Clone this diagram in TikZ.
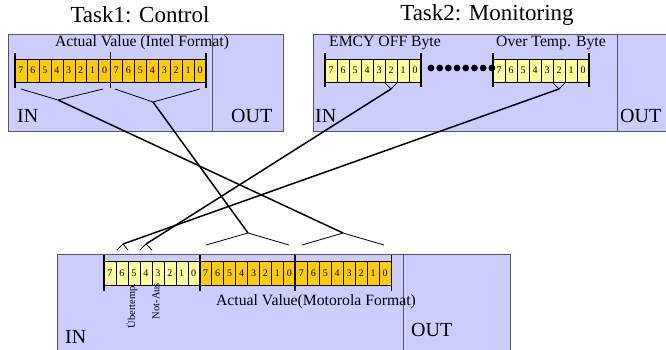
\documentclass[tikz,border=0pt]{standalone}
\usepackage{fontspec}
\setmainfont{Liberation Serif}
\usetikzlibrary{positioning}
\definecolor{boxfill}{HTML}{CCCCFF}
\definecolor{boxline}{HTML}{555566}
\definecolor{bitorange}{HTML}{FFCC00}
\definecolor{bityellow}{HTML}{FFFF99}
\tikzset{%
	taskbox/.style		= {draw = boxline, fill = boxfill, rectangle, anchor = north west, inner sep = 0pt}, % Task frame
	tasktitle/.style	= {font = \fontsize{23}{23}\selectfont},
	fieldtext/.style	= {font = \fontsize{15.7}{16}\selectfont, inner sep = 0pt},
	flagtext/.style		= {font = \fontsize{10.5}{10.5}\selectfont, inner sep = 0pt, rotate = 90},
	iotext/.style		= {font = \fontsize{20}{20}\selectfont, inner sep = 0pt, anchor = base west},
	bitcell/.style		= {draw, thin, rectangle, inner sep = 0pt, font = \fontsize{10}{10}\selectfont},
	endbar/.style		= {line width = 2pt},
	midbar/.style		= {line width = 0.8pt},
	brace/.style		= {line width = 0.8pt},
	link/.style			= {line width = 1.5pt} % Mapping line
}

\begin{document}
\begin{tikzpicture}[x = 1pt, y = -1pt]
	\useasboundingbox (0,0) rectangle (666,349);

	% Task1
	\node [taskbox, minimum width = 275pt, minimum height = 97pt] (t1) at (8,34) {};
	\draw [boxline] (212,34) -- (212,131);
	\node [tasktitle] (t1title) at (140,15) {Task1: Control};
	\node [fieldtext] (t1field) at (142,43) {Actual Value (Intel Format)};
	\node [iotext] (t1in) at (17,122) {IN};
	\node [iotext] (t1out) at (231,122) {OUT};
	\foreach \i in {0,...,15} {
		\pgfmathtruncatemacro{\bit}{7 - mod(\i,8)}
		\node [bitcell, fill = bitorange, minimum width = 11.94pt, minimum height = 23pt]
			(a\i) at (15 + 11.94*\i + 5.97, 70.5) {\bit};
	}
	\draw [endbar] (15,53) -- (15,88);
	\draw [endbar] (206,53) -- (206,88);
	\draw [midbar] (110,52) -- (110,88);
	\coordinate (lo1) at (58,100);
	\coordinate (hi1) at (153,102);
	\draw [brace] (21,89) -- (lo1) -- (103,89);
	\draw [brace] (115,89) -- (hi1) -- (200,89);

	% Task2
	\node [taskbox, minimum width = 375pt, minimum height = 97pt] (t2) at (313,34) {};
	\draw [boxline] (617,34) -- (617,131);
	\node [tasktitle] (t2title) at (487,15) {Task2: Monitoring};
	\node [fieldtext] (emcyfield) at (385,43) {EMCY OFF Byte};
	\node [fieldtext] (otfield) at (551,43) {Over Temp. Byte};
	\node [iotext] (t2in) at (315,122) {IN};
	\node [iotext] (t2out) at (620,122) {OUT};
	\foreach \i in {0,...,7} {
		\pgfmathtruncatemacro{\bit}{7 - \i}
		\node [bitcell, fill = bityellow, minimum width = 12pt, minimum height = 23pt]
			(e\i) at (325 + 12*\i + 6, 70.5) {\bit};
		\node [bitcell, fill = bityellow, minimum width = 12pt, minimum height = 23pt]
			(o\i) at (493 + 12*\i + 6, 70.5) {\bit};
	}
	\foreach \i in {0,...,7}
		\fill (431 + 8.7*\i, 68) circle (3.4pt);
	\draw [endbar] (325,53) -- (325,87);
	\draw [endbar] (421,53) -- (421,87);
	\draw [endbar] (493,53) -- (493,87);
	\draw [endbar] (589,53) -- (589,87);
	\coordinate (emcy) at (391,89);
	\coordinate (otemp) at (559,89);
	\draw [brace] (385,83) -- (emcy) -- (397,83);
	\draw [brace] (553,83) -- (otemp) -- (565,83);

	% Motorola target
	\node [taskbox, minimum width = 453pt, minimum height = 110pt] (t3) at (57,254) {};
	\draw [boxline] (403,254) -- (403,364);
	\node [fieldtext] (t3field) at (316,302) {Actual Value(Motorola Format)};
	\node [iotext] (t3in) at (65,343) {IN};
	\node [iotext] (t3out) at (411,336) {OUT};
	\foreach \i in {0,...,23} {
		\pgfmathtruncatemacro{\bit}{7 - mod(\i,8)}
		\ifnum\i<8 \def\bitfill{bityellow}\else \def\bitfill{bitorange}\fi
		\node [bitcell, fill = \bitfill, minimum width = 11.96pt, minimum height = 24pt]
			(m\i) at (104 + 11.96*\i + 5.98, 273) {\bit};
	}
	\draw [endbar] (104,255) -- (104,291);
	\draw [endbar] (200,255) -- (200,291);
	\draw [endbar] (295,255) -- (295,291);
	\draw [midbar] (391,255) -- (391,291);
	\node [flagtext] (tempflag) at (132,306) {Übertemp.};
	\node [flagtext] (stopflag) at (156,301) {Not-Aus};
	\coordinate (m6) at (123,244);
	\coordinate (m4) at (146,244);
	\coordinate (mhi) at (248,233);
	\coordinate (mlo) at (343,233);
	\draw [brace] (117,250) -- (m6) -- (128,250);
	\draw [brace] (140,250) -- (m4) -- (152,250);
	\draw [brace] (206,245) -- (mhi) -- (289,245);
	\draw [brace] (302,245) -- (mlo) -- (384,245);

	% Mapping lines
	\draw [link] (lo1) -- (mlo);
	\draw [link] (hi1) -- (mhi);
	\draw [link] (emcy) -- (m4);
	\draw [link] (otemp) -- (m6);
\end{tikzpicture}
\end{document}
